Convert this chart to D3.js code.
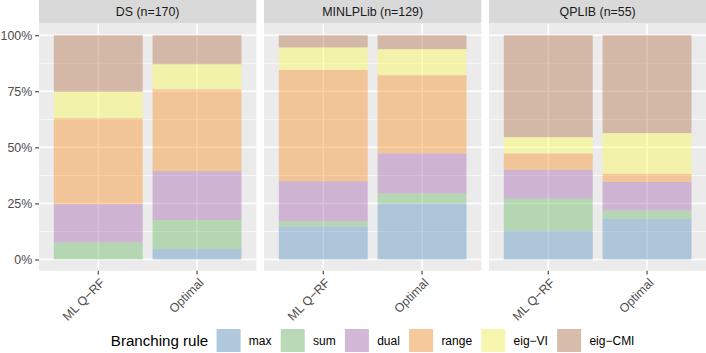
<!DOCTYPE html>
<html>
<head>
<meta charset="utf-8">
<script src="https://cdn.jsdelivr.net/npm/d3@7"></script>
<style>
  html, body { margin: 0; padding: 0; background: #ffffff; }
  svg { display: block; font-family: "Liberation Sans", Arial, Helvetica, sans-serif; }
</style>
</head>
<body>
<svg id="chart" width="706" height="353"></svg>
<script>
// ---- data ----
const panels = ["DS (n=170)", "MINLPLib (n=129)", "QPLIB (n=55)"];
const methods = ["ML Q\u2212RF", "Optimal"];
const rules = ["max", "sum", "dual", "range", "eig\u2212VI", "eig\u2212CMI"];
const ruleColors = ["#377EB8", "#4DAF4A", "#984EA3", "#FF7F00", "#FFFF33", "#A65628"];
// counts per rule (max, sum, dual, range, eig-VI, eig-CMI)
const dsML = [0, 13, 29, 65, 20, 43];
const dsOpt = [8, 22, 37, 62, 19, 22];
const minlpML = [19, 3, 23, 64, 13, 7];
const minlpOpt = [32, 6, 23, 45, 15, 8];
const qplibML = [7, 8, 7, 4, 4, 25];
const qplibOpt = [10, 2, 7, 2, 10, 24];
const yTicks = [0, 0.25, 0.5, 0.75, 1];
const yMinor = [0.125, 0.375, 0.625, 0.875];
const legendTitle = "Branching rule";

const counts = {
  [panels[0]]: { [methods[0]]: dsML, [methods[1]]: dsOpt },
  [panels[1]]: { [methods[0]]: minlpML, [methods[1]]: minlpOpt },
  [panels[2]]: { [methods[0]]: qplibML, [methods[1]]: qplibOpt }
};

// ---- layout ----
const svg = d3.select("#chart");
const panelLeft = 39, panelRight = 706.3, panelTop = 24, panelBottom = 270.7;
const stripTop = 0;
const panelGap = 7.7;
const fill = d3.scaleOrdinal().domain(rules).range(ruleColors);
const alpha = 0.35;
const axisFont = "12.4px";

const px = d3.scaleBand().domain(panels).range([panelLeft, panelRight])
  .paddingInner(panelGap / ((panelRight - panelLeft - 2 * panelGap) / 3 + panelGap)).paddingOuter(0);
const pw = px.bandwidth();
const y = d3.scaleLinear().domain([-0.05, 1.05]).range([panelBottom, panelTop]);
const xIn = d3.scaleBand().domain(methods).range([0, pw]).paddingInner(0.1).paddingOuter(0.15);

const stack = d3.stack().keys(d3.range(rules.length)).offset(d3.stackOffsetExpand);

panels.forEach((p, pi) => {
  const g = svg.append("g").attr("transform", `translate(${px(p)},0)`);
  // strip
  g.append("rect").attr("x", 0).attr("y", stripTop).attr("width", pw).attr("height", panelTop - stripTop - 0.5)
    .attr("fill", "#D9D9D9");
  g.append("text").attr("x", pw / 2).attr("y", (stripTop + panelTop) / 2).attr("dy", "0.36em")
    .attr("text-anchor", "middle").attr("font-size", axisFont).attr("fill", "#1A1A1A").text(p);
  // panel bg
  g.append("rect").attr("x", 0).attr("y", panelTop).attr("width", pw).attr("height", panelBottom - panelTop)
    .attr("fill", "#EBEBEB");
  // grid
  g.selectAll(".minor").data(yMinor).enter().append("line")
    .attr("x1", 0).attr("x2", pw).attr("y1", d => y(d)).attr("y2", d => y(d))
    .attr("stroke", "#FFFFFF").attr("stroke-width", 0.75);
  g.selectAll(".major").data(yTicks).enter().append("line")
    .attr("x1", 0).attr("x2", pw).attr("y1", d => y(d)).attr("y2", d => y(d))
    .attr("stroke", "#FFFFFF").attr("stroke-width", 1.5);
  g.selectAll(".vmajor").data(methods).enter().append("line")
    .attr("x1", d => xIn(d) + xIn.bandwidth() / 2).attr("x2", d => xIn(d) + xIn.bandwidth() / 2)
    .attr("y1", panelTop).attr("y2", panelBottom)
    .attr("stroke", "#FFFFFF").attr("stroke-width", 1.5);
  // bars
  const rows = methods.map(m => counts[p][m]);
  const series = stack(rows);
  series.forEach((s, ri) => {
    g.selectAll(null).data(s).enter().append("rect")
      .attr("x", (d, mi) => xIn(methods[mi]))
      .attr("width", xIn.bandwidth())
      .attr("y", d => y(d[1]))
      .attr("height", d => Math.max(0, y(d[0]) - y(d[1])))
      .attr("fill", fill(rules[ri])).attr("fill-opacity", alpha);
  });
  // x axis
  const xa = g.append("g").attr("transform", `translate(0,${panelBottom})`)
    .call(d3.axisBottom(xIn).tickSize(3.8).tickPadding(2));
  xa.select(".domain").remove();
  xa.selectAll(".tick line").attr("stroke", "#333333").attr("stroke-width", 1.07);
  xa.selectAll(".tick text")
    .attr("font-size", axisFont).attr("fill", "#4D4D4D")
    .attr("font-family", "Liberation Sans, Arial, sans-serif")
    .attr("text-anchor", "end")
    .attr("y", 0).attr("dy", "0.72em")
    .attr("transform", "translate(1,6.5) rotate(-45)");
  // y axis only on first panel
  if (pi === 0) {
    const ya = g.append("g")
      .call(d3.axisLeft(y).tickValues(yTicks).tickFormat(d3.format(".0%")).tickSize(3.8).tickPadding(3));
    ya.select(".domain").remove();
    ya.selectAll(".tick line").attr("stroke", "#333333").attr("stroke-width", 1.07);
    ya.selectAll(".tick text").attr("font-size", axisFont).attr("fill", "#4D4D4D")
      .attr("font-family", "Liberation Sans, Arial, sans-serif");
  }
});

// ---- legend ----
const lg = svg.append("g");
const keyW = 24, keyH = 23, keyY = 329;
const midY = keyY + keyH / 2;
const title = lg.append("text").attr("x", 0).attr("y", midY).attr("dy", "0.36em")
  .attr("font-size", "15.1px").attr("fill", "#000000").text(legendTitle);
let cx = title.node().getComputedTextLength() + 8.4;
rules.forEach((r, i) => {
  lg.append("rect").attr("x", cx).attr("y", keyY).attr("width", keyW).attr("height", keyH).attr("fill", "#F2F2F2");
  lg.append("rect").attr("x", cx).attr("y", keyY).attr("width", keyW).attr("height", keyH)
    .attr("fill", fill(r)).attr("fill-opacity", alpha);
  cx += keyW + 8.3;
  const t = lg.append("text").attr("x", cx).attr("y", midY).attr("dy", "0.36em")
    .attr("font-size", "12px").attr("fill", "#000000").text(r);
  cx += t.node().getComputedTextLength();
  if (i < rules.length - 1) cx += 9.2;
});
const center = (panelLeft + panelRight) / 2;
lg.attr("transform", `translate(${center - cx / 2},0)`);
</script>
</body>
</html>
